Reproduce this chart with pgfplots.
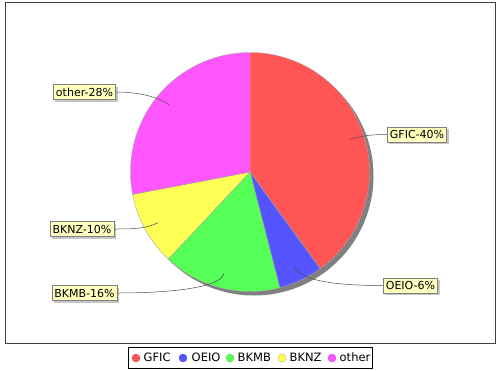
\documentclass[border=0pt]{standalone}
\usepackage{pgfplots}
\pgfplotsset{compat=1.18}
\usepackage{pgfplotstable}
\usetikzlibrary{shadows}
\usepackage{fontspec}
\setmainfont{DejaVu Sans}
\definecolor{c0}{RGB}{255,85,85}
\definecolor{c1}{RGB}{85,85,255}
\definecolor{c2}{RGB}{85,255,85}
\definecolor{c3}{RGB}{255,255,85}
\definecolor{c4}{RGB}{255,85,255}
\definecolor{shadowgray}{RGB}{128,128,128}
\definecolor{labelbg}{RGB}{255,255,192}
\definecolor{framegray}{RGB}{64,64,64}
\tikzset{
  lab/.style={fill=labelbg,draw=gray,line width=0.5pt,inner xsep=2.5pt,inner ysep=0pt,
    minimum height=15pt,font=\fontsize{11}{13}\selectfont,
    drop shadow={shadow xshift=2pt,shadow yshift=-2pt,fill=gray!45,opacity=1}},
  lnk/.style={draw=black!70,line width=0.5pt},
  leg/.style={anchor=west,inner sep=0pt,font=\fontsize{11.5}{13}\selectfont}}
\pgfplotstableread{
name value
GFIC 40
OEIO 6
BKMB 16
BKNZ 10
other 28
}\piedata
\begin{document}
\begin{tikzpicture}
\gdef\cum{0}%
\foreach \i in {0,...,4}{%
  \pgfplotstablegetelem{\i}{value}\of\piedata
  \edef\val{\pgfplotsretval}%
  \pgfmathsetmacro\sa{90-3.6*\cum}%
  \pgfmathsetmacro\ea{90-3.6*(\cum+\val)}%
  \pgfmathsetmacro\ma{(\sa+\ea)/2}%
  \expandafter\xdef\csname sa\i\endcsname{\sa}%
  \expandafter\xdef\csname ea\i\endcsname{\ea}%
  \expandafter\xdef\csname ma\i\endcsname{\ma}%
  \pgfmathsetmacro\newcum{\cum+\val}%
  \xdef\cum{\newcum}%
}%
\begin{axis}[x=1pt,y=1pt,xmin=0,xmax=500,ymin=0,ymax=370,y dir=reverse,
  hide axis,clip=false]
\path (axis cs:0,0) rectangle (axis cs:500,370);
% frame
\draw[framegray,line width=1pt] (axis cs:5.5,2.5) rectangle (axis cs:495.5,343);
% shadow
\fill[shadowgray] (axis cs:254,176) circle[radius=119.5pt];
% slices
\pgfplotsinvokeforeach{0,...,4}{%
  \filldraw[fill=c#1,draw=gray!70,line width=0.4pt] (axis cs:250,172) -- ++(\csname sa#1\endcsname:119.5pt)
    arc[start angle=\csname sa#1\endcsname,end angle=\csname ea#1\endcsname,radius=119.5pt] -- cycle;
}
% labels
\node[lab] (L0) at (axis cs:417,134.5) {GFIC-40\%};
\node[lab] (L1) at (axis cs:410.5,285.5) {OEIO-6\%};
\node[lab] (L2) at (axis cs:84.5,293) {BKMB-16\%};
\node[lab] (L3) at (axis cs:82,229) {BKNZ-10\%};
\node[lab] (L4) at (axis cs:84.5,92) {other-28\%};
% links
\draw[lnk] (L0.west) .. controls +(-15pt,0pt) and ([shift={(\csname ma0\endcsname:118pt)}]axis cs:250,172) .. ([shift={(\csname ma0\endcsname:105pt)}]axis cs:250,172);
\draw[lnk] (L1.west) .. controls +(-40pt,0pt) and ([shift={(\csname ma1\endcsname:122pt)}]axis cs:250,172) .. ([shift={(\csname ma1\endcsname:105pt)}]axis cs:250,172);
\draw[lnk] (L2.east) .. controls +(50pt,0pt) and ([shift={(\csname ma2\endcsname:120pt)}]axis cs:250,172) .. ([shift={(\csname ma2\endcsname:105pt)}]axis cs:250,172);
\draw[lnk] (L3.east) .. controls +(18pt,0pt) and ([shift={(\csname ma3\endcsname:118pt)}]axis cs:250,172) .. ([shift={(\csname ma3\endcsname:105pt)}]axis cs:250,172);
\draw[lnk] (L4.east) .. controls +(22pt,0pt) and ([shift={(\csname ma4\endcsname:118pt)}]axis cs:250,172) .. ([shift={(\csname ma4\endcsname:105pt)}]axis cs:250,172);
% legend
\draw[black,line width=0.9pt] (axis cs:128,347) rectangle (axis cs:372,368.5);
\filldraw[fill=c0,draw=c0!80!black,line width=0.3pt] (axis cs:136,358) circle[radius=4pt];
\filldraw[fill=c1,draw=c1!80!black,line width=0.3pt] (axis cs:183,358) circle[radius=4pt];
\filldraw[fill=c2,draw=c2!80!black,line width=0.3pt] (axis cs:230,358) circle[radius=4pt];
\filldraw[fill=c3,draw=c3!70!black,line width=0.3pt] (axis cs:282,358) circle[radius=4pt];
\filldraw[fill=c4,draw=c4!80!black,line width=0.3pt] (axis cs:332,358) circle[radius=4pt];
\node[leg] at (axis cs:143.5,357.5) {GFIC};
\node[leg] at (axis cs:191.5,357.5) {OEIO};
\node[leg] at (axis cs:237.5,357.5) {BKMB};
\node[leg] at (axis cs:289.5,357.5) {BKNZ};
\node[leg] at (axis cs:339.5,357.5) {other};
\end{axis}
\end{tikzpicture}
\end{document}
